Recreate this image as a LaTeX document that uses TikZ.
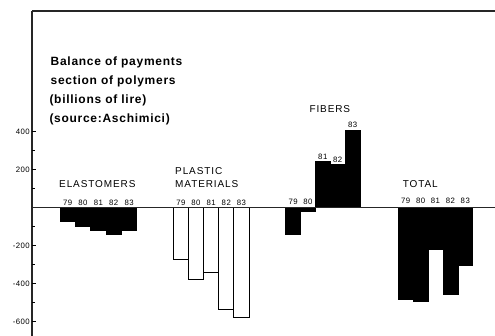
\documentclass[tikz,border=0pt]{standalone}
\usepackage{fontspec}
\setmainfont{Liberation Sans}
\newfontfamily\titlefont[LetterSpace=6]{Liberation Sans}
\newfontfamily\catfont[LetterSpace=9]{Liberation Sans}
\newfontfamily\numfont[LetterSpace=6]{Liberation Sans}
\newcommand\zy{207.8}
\newcommand\chartbar[4]{\path[#4] (#1,\zy) rectangle ({#1+#2},{\zy-0.19*#3});}
\begin{document}
\begin{tikzpicture}[x=1pt,y=-1pt,
  titletext/.style={anchor=base west,inner sep=0pt,font=\titlefont\bfseries\fontsize{12}{14}\selectfont},
  cattext/.style={anchor=base west,inner sep=0pt,font=\catfont\fontsize{10}{11}\selectfont},
  yeartext/.style={anchor=base,inner sep=0pt,font=\numfont\fontsize{7.8}{9}\selectfont},
  ticktext/.style={anchor=east,inner sep=0pt,font=\numfont\fontsize{7.8}{9}\selectfont},
  darkbar/.style={fill=black,draw=black,line width=0.6pt},
  openbar/.style={fill=white,draw=black,line width=0.9pt},
  axisline/.style={line width=1.2pt,black!85}]
\useasboundingbox (0,0) rectangle (495,336);
% frame and axes
\coordinate (corner) at (32,11);
\coordinate (topright) at (495,11);
\coordinate (axisbottom) at (32,336);
\coordinate (zeroleft) at (32,\zy);
\coordinate (zeroright) at (495,\zy);
\draw[axisline,line width=1.5pt] (corner) -- (topright);
\draw[axisline] (corner) -- (axisbottom);
% major ticks
\foreach \v in {400,200,0,-200,-400,-600}{
  \draw[line width=0.9pt] (32,{\zy-0.19*\v}) -- (35.5,{\zy-0.19*\v});
}
\foreach \v in {300,100,-100,-300,-500}{
  \draw[line width=0.9pt] (32,{\zy-0.19*\v}) -- (34.5,{\zy-0.19*\v});
}
\node[ticktext] (t400) at (30,{\zy-0.19*400}) {400};
\node[ticktext] (t200) at (30,{\zy-0.19*200}) {200};
\node[ticktext] (tm200) at (30,{\zy+0.19*200}) {-200};
\node[ticktext] (tm400) at (30,{\zy+0.19*400}) {-400};
\node[ticktext] (tm600) at (30,{\zy+0.19*600}) {-600};
% title
\node[titletext] (title1) at (50.5,65.7) {Balance of payments};
\node[titletext] (title2) at (50.5,85) {section of polymers};
\node[titletext] (title3) at (49.3,103.3) {(billions of lire)};
\node[titletext] (title4) at (49.3,122.7) {(source:Aschimici)};
% elastomers
\chartbar{60}{15.35}{-72}{darkbar}
\chartbar{75.35}{15.35}{-95}{darkbar}
\chartbar{90.7}{15.35}{-116}{darkbar}
\chartbar{106.05}{15.35}{-138}{darkbar}
\chartbar{121.4}{15.35}{-119}{darkbar}
\node[cattext] (elast) at (59,187.7) {ELASTOMERS};
% plastic materials
\chartbar{173.3}{15.15}{-270}{openbar}
\chartbar{188.45}{15.15}{-379}{openbar}
\chartbar{203.6}{15.15}{-338}{openbar}
\chartbar{218.75}{15.15}{-537}{openbar}
\chartbar{233.9}{15.15}{-577}{openbar}
\node[cattext] (plast) at (175,175) {PLASTIC};
\node[cattext] (mater) at (175,187.7) {MATERIALS};
% fibers
\chartbar{285.7}{14.86}{-142}{darkbar}
\chartbar{300.56}{14.86}{-19}{darkbar}
\chartbar{315.42}{14.86}{247}{darkbar}
\chartbar{330.28}{14.86}{230}{darkbar}
\chartbar{345.14}{14.86}{410}{darkbar}
\node[cattext] (fibers) at (309.3,112.7) {FIBERS};
% total
\chartbar{398.3}{14.88}{-482}{darkbar}
\chartbar{413.18}{14.88}{-493}{darkbar}
\chartbar{428.06}{14.88}{-218}{darkbar}
\chartbar{442.94}{14.88}{-453}{darkbar}
\chartbar{457.82}{14.88}{-305}{darkbar}
\node[cattext] (total) at (402.7,187.3) {TOTAL};
% zero line
\draw[axisline] (zeroleft) -- (zeroright);
% year labels
\foreach \x/\y [count=\i] in {67.7/79,83/80,98.4/81,113.7/82,129.1/83}{
  \node[yeartext] (ey\i) at (\x,205.5) {\y};
}
\foreach \x/\y [count=\i] in {180.9/79,196/80,211.2/81,226.3/82,241.5/83}{
  \node[yeartext] (py\i) at (\x,205.2) {\y};
}
\node[yeartext] (fy1) at (293.1,204.5) {79};
\node[yeartext] (fy2) at (308,204.5) {80};
\node[yeartext] (fy3) at (322.8,159.3) {81};
\node[yeartext] (fy4) at (337.7,163) {82};
\node[yeartext] (fy5) at (352.6,128) {83};
\foreach \x/\y [count=\i] in {405.7/79,420.6/80,435.5/81,450.4/82,465.3/83}{
  \node[yeartext] (ty\i) at (\x,203.8) {\y};
}
\end{tikzpicture}
\end{document}
